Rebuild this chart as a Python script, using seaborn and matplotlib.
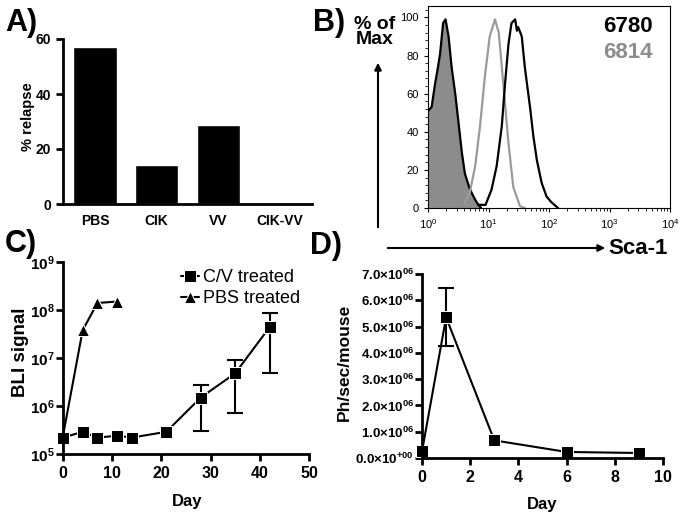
import numpy as np
import pandas as pd
import matplotlib
matplotlib.use("Agg")
import matplotlib.pyplot as plt
import matplotlib.ticker as mticker
import seaborn as sns

# Panel A: relapse
groups = ["PBS", "CIK", "VV", "CIK-VV"]
relapse = [57.1, 14.3, 28.6, 0.0]

# Panel B: Sca-1 histograms (log10 fluorescence, % of max)
iso_log = [0.0, 0.005, 0.06, 0.116, 0.16, 0.2, 0.25, 0.29, 0.34, 0.39, 0.45, 0.5,
           0.56, 0.61, 0.69, 0.78, 0.83, 0.88]
iso_pct = [51, 51, 53, 65, 73, 81, 97, 99, 90, 74, 60, 46, 29, 18, 10, 4.3, 1.7, 0]
c6814_log = [0.6, 0.69, 0.78, 0.86, 0.94, 1.02, 1.107, 1.17, 1.245, 1.33, 1.41, 1.52, 1.6]
c6814_pct = [2, 8, 22, 43, 69, 90, 99, 92, 65, 34, 11, 1, 0]
c6780_log = [0.83, 0.95, 1.05, 1.135, 1.22, 1.27, 1.33, 1.38, 1.44, 1.47, 1.49, 1.55,
             1.60, 1.69, 1.74, 1.80, 1.88, 1.96, 2.04, 2.15]
c6780_pct = [1.7, 1.6, 9.6, 22, 43, 64, 86, 97, 99, 93, 95, 90, 74, 52, 38, 25, 13,
             6, 3, 0]

# Panel C: BLI signal
cv_day = [0, 4, 7, 11, 14, 21, 28, 35, 42]
cv_bli = [2.2e5, 2.9e5, 2.2e5, 2.4e5, 2.2e5, 2.9e5, 1.5e6, 4.8e6, 4.4e7]
# error bars visible only at the last three time points
err_day = [28, 35, 42]
err_mid = [1.5e6, 4.8e6, 4.4e7]
err_lo = [3.0e5, 7.0e5, 4.8e6]
err_hi = [2.7e6, 9.1e6, 8.5e7]
pbs_day = [0, 4, 7, 11]
pbs_bli = [2.4e5, 3.8e7, 1.4e8, 1.5e8]

# Panel D: Ph/sec/mouse
d_day = [0, 1, 3, 6, 9]
d_val = [2.5e5, 5.35e6, 6.7e5, 2.3e5, 1.9e5]
d_err_day = [1]
d_err_mid = [5.35e6]
d_err = [1.1e6]

sns.set_style("ticks")
plt.rcParams["font.family"] = ["Liberation Sans", "DejaVu Sans"]
plt.rcParams["mathtext.fontset"] = "custom"
plt.rcParams["mathtext.rm"] = "Liberation Sans"
plt.rcParams["mathtext.bf"] = "Liberation Sans:bold"
for k in ["text.color", "axes.labelcolor", "xtick.color", "ytick.color", "axes.edgecolor"]:
    plt.rcParams[k] = "black"

W, H = 685, 519
fig = plt.figure(figsize=(W / 100, H / 100), dpi=100)


def box(l, r, t, b):
    return [l / W, 1 - b / H, (r - l) / W, (b - t) / H]


def style_prism(ax):
    sns.despine(ax=ax)
    for s in ["left", "bottom"]:
        ax.spines[s].set_linewidth(2)
    ax.tick_params(width=2, length=5, direction="out")


# ---- A ----
axA = fig.add_axes(box(63, 312, 39, 204))
sns.barplot(x=groups, y=relapse, color="black", width=0.7, ax=axA, saturation=1)
axA.set_ylim(0, 60)
axA.set_xlim(-0.52, 3.52)
axA.set_yticks([0, 20, 40, 60])
style_prism(axA)
axA.tick_params(axis="x", length=0, pad=7)
for lab in axA.get_xticklabels() + axA.get_yticklabels():
    lab.set_fontweight("bold")
    lab.set_fontsize(10)
axA.set_ylabel("% relapse", fontsize=10.5, fontweight="bold")
axA.yaxis.set_label_coords(-0.112, 0.53)

# ---- B ----
axB = fig.add_axes(box(428, 670, 6, 208))
axB.set_xscale("log")
iso_x = 10 ** np.array(iso_log)
axB.fill_between(iso_x, iso_pct, color="#8c8c8c", lw=0)
sns.lineplot(x=iso_x, y=iso_pct, color="black", lw=1.6, ax=axB, sort=False)
sns.lineplot(x=10 ** np.array(c6814_log), y=c6814_pct, color="#9a9a9a", lw=1.6, ax=axB, sort=False)
sns.lineplot(x=10 ** np.array(c6780_log), y=c6780_pct, color="black", lw=1.6, ax=axB, sort=False)
axB.set_xlim(1, 1e4)
axB.set_ylim(0, 106)
axB.set_yticks([0, 20, 40, 60, 80, 100])
axB.yaxis.set_minor_locator(mticker.AutoMinorLocator(5))
axB.xaxis.set_major_locator(mticker.LogLocator(base=10, numticks=10))
axB.xaxis.set_minor_locator(mticker.LogLocator(base=10, subs=np.arange(2, 10), numticks=20))
axB.xaxis.set_minor_formatter(mticker.NullFormatter())
for s in axB.spines.values():
    s.set_linewidth(0.8)
axB.tick_params(labelsize=8, length=3, width=0.8)
axB.tick_params(which="minor", length=2, width=0.6)
axB.set_xlabel("")
axB.set_ylabel("")
fig.text(653 / W, 1 - 27 / H, "6780", ha="right", va="center", fontsize=16, fontweight="bold", color="black")
fig.text(653 / W, 1 - 53 / H, "6814", ha="right", va="center", fontsize=16, fontweight="bold", color="#8c8c8c")
fig.text(375 / W, 1 - 32 / H, "% of\nMax", ha="center", va="center", fontsize=14,
         fontweight="bold", linespacing=0.78)
axB.annotate("", xy=(378 / W, 1 - 60 / H), xytext=(378 / W, 1 - 230 / H),
             xycoords="figure fraction", textcoords="figure fraction",
             arrowprops=dict(arrowstyle="-|>", lw=1.5, color="black", mutation_scale=10),
             annotation_clip=False)
axB.annotate("", xy=(608 / W, 1 - 248 / H), xytext=(385 / W, 1 - 248 / H),
             xycoords="figure fraction", textcoords="figure fraction",
             arrowprops=dict(arrowstyle="-|>", lw=1.5, color="black", mutation_scale=10),
             annotation_clip=False)
fig.text(608 / W, 1 - 248 / H, "Sca-1", ha="left", va="center", fontsize=16, fontweight="bold")

# ---- C ----
axC = fig.add_axes(box(63, 309, 262, 454))
axC.set_yscale("log")
em = np.array(err_mid)
axC.errorbar(err_day, err_mid, yerr=[em - np.array(err_lo), np.array(err_hi) - em],
             fmt="none", ecolor="black", elinewidth=1.5, capsize=6, capthick=1.5, clip_on=False)
sns.lineplot(x=pbs_day, y=pbs_bli, color="black", marker="^", markersize=9, lw=1.5,
             label="PBS treated", ax=axC, clip_on=False)
sns.lineplot(x=cv_day, y=cv_bli, color="black", marker="s", markersize=9, lw=1.5,
             label="C/V treated", ax=axC, clip_on=False)
axC.set_xlim(0, 50)
axC.set_ylim(1e5, 1e9)
axC.set_xticks(range(0, 51, 10))
axC.yaxis.set_major_locator(mticker.FixedLocator([1e5, 1e6, 1e7, 1e8, 1e9]))
axC.yaxis.set_minor_locator(mticker.NullLocator())
axC.yaxis.set_major_formatter(mticker.FuncFormatter(
    lambda v, p: r"$\mathbf{10^{%d}}$" % round(np.log10(v))))
style_prism(axC)
axC.tick_params(axis="x", labelsize=11.5)
axC.tick_params(axis="y", labelsize=11, pad=1)
for lab in axC.get_xticklabels():
    lab.set_fontweight("bold")
axC.set_xlabel("Day", fontsize=12, fontweight="bold")
axC.xaxis.set_label_coords(0.504, -0.21)
axC.set_ylabel("BLI signal", fontsize=13.5, fontweight="bold")
axC.yaxis.set_label_coords(-0.14, 0.53)
h, l = axC.get_legend_handles_labels()
axC.legend(h[::-1], l[::-1], loc="upper left", bbox_to_anchor=(0.45, 1.0), frameon=False,
           fontsize=13, handlelength=1.0, handletextpad=0.25, labelspacing=0.2, borderaxespad=0)

# ---- D ----
axD = fig.add_axes(box(422, 663, 274, 458))
axD.errorbar(d_err_day, d_err_mid, yerr=d_err, fmt="none", ecolor="black", elinewidth=1.5,
             capsize=6, capthick=1.5, clip_on=False)
sns.lineplot(x=d_day, y=d_val, color="black", marker="s", markersize=9, lw=1.5, ax=axD,
             clip_on=False)
axD.set_xlim(0, 10)
axD.set_ylim(0, 7e6)
axD.set_xticks(range(0, 11, 2))
axD.set_yticks(np.arange(0, 7.01e6, 1e6))


def d_fmt(v, p):
    m = v / 1e6
    if m == 0:
        return r"$\mathbf{0.0{\times}10^{+00}}$"
    return r"$\mathbf{%.1f{\times}10^{06}}$" % m


axD.yaxis.set_major_formatter(mticker.FuncFormatter(d_fmt))
style_prism(axD)
axD.tick_params(axis="x", labelsize=11.5)
axD.tick_params(axis="y", labelsize=9.5, pad=1)
for lab in axD.get_xticklabels():
    lab.set_fontweight("bold")
axD.set_xlabel("Day", fontsize=12, fontweight="bold")
axD.xaxis.set_label_coords(0.497, -0.21)
axD.set_ylabel("Ph/sec/mouse", fontsize=12.5, fontweight="bold")
axD.yaxis.set_label_coords(-0.29, 0.52)

# panel letters
for x, y, t in [(5, 8, "A)"), (313, 8, "B)"), (5, 229, "C)"), (310, 231, "D)")]:
    fig.text(x / W, 1 - y / H, t, ha="left", va="top", fontsize=22, fontweight="bold")

fig.savefig("out.png", dpi=100)
